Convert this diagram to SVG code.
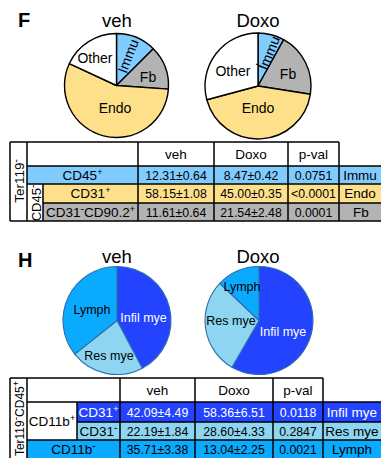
<svg xmlns="http://www.w3.org/2000/svg" width="381" height="458" viewBox="0 0 381 458">
<style>
text{font-family:"Liberation Sans",Arial,sans-serif;fill:#000}
.ttl{font-size:18.5px;text-anchor:middle}
.pan{font-size:20px;font-weight:bold}
.pl{font-size:14px;text-anchor:middle}
.pl2{font-size:12.5px;text-anchor:middle}
.hd{font-size:13.5px;text-anchor:middle}
.dt{font-size:12.3px;text-anchor:middle}
.w{fill:#fff}
.sp{font-size:9px}
.sm{font-size:10px}
.pie1{stroke:#000;stroke-width:1.4;stroke-linejoin:round}
.pie2{stroke:#2a6db0;stroke-width:1.1;stroke-linejoin:round}
.grid{stroke:#000;stroke-width:1.5;fill:none}
.immu{fill:#80ccff}.fb{fill:#b3b3b3}.endo{fill:#ffe08a}.oth{fill:#fff}
.inf{fill:#2343ff}.res{fill:#8dd5f0}.lym{fill:#0aaaff}
</style>

<!-- Panel F -->
<text class="pan" x="18" y="27">F</text>

<g id="pie-F-veh">
<text class="ttl" x="117" y="27">veh</text>
<path class="pie1 immu" d="M116.5,85.5 L116.5,33.5 A52,52 0 0 1 153.27,48.73 Z"/>
<path class="pie1 fb" d="M116.5,85.5 L153.27,48.73 A52,52 0 0 1 168.37,89.13 Z"/>
<path class="pie1 endo" d="M116.5,85.5 L168.37,89.13 A52,52 0 1 1 69.37,63.52 Z"/>
<path class="pie1 oth" d="M116.5,85.5 L69.37,63.52 A52,52 0 0 1 116.5,33.5 Z"/>
<text class="pl" x="95" y="63">Other</text>
<text class="pl" x="148" y="82">Fb</text>
<text class="pl" x="115" y="113">Endo</text>
<text class="pl" transform="translate(128,56) rotate(-69)" x="0" y="5">Immu</text>
</g>

<g id="pie-F-doxo">
<text class="ttl" x="258" y="27">Doxo</text>
<path class="pie1 immu" d="M258,86 L258,33 A53,53 0 0 1 283.7,39.64 Z"/>
<path class="pie1 fb" d="M258,86 L283.7,39.64 A53,53 0 0 1 310.35,94.29 Z"/>
<path class="pie1 endo" d="M258,86 L310.35,94.29 A53,53 0 0 1 206.81,99.72 Z"/>
<path class="pie1 oth" d="M258,86 L206.81,99.72 A53,53 0 0 1 258,33 Z"/>
<line x1="256" y1="64" x2="262" y2="67" stroke="#000" stroke-width="1"/>
<text class="pl" x="233" y="76">Other</text>
<text class="pl" x="288" y="79">Fb</text>
<text class="pl" x="258" y="113">Endo</text>
<text class="pl" transform="translate(269,53) rotate(-68)" x="0" y="5">Immu</text>
</g>

<g id="table-F">
<rect x="10" y="142" width="17" height="79" fill="#fff"/>
<rect x="27" y="142" width="312" height="24" fill="#fff"/>
<rect class="immu" x="27" y="166" width="354" height="18"/>
<rect class="endo" x="43" y="184" width="338" height="19"/>
<rect class="fb" x="43" y="203" width="338" height="18"/>
<rect x="27" y="184" width="16" height="37" fill="#fff"/>
<path class="grid" d="M10,142H339 M27,166H381 M27,184H381 M43,203H381 M10,221H381 M10,142V221 M27,142V221 M43,184V221 M138,142V221 M214,142V221 M288,142V221 M339,142V221"/>
<text class="hd" transform="translate(24,181) rotate(-90)">Ter119<tspan class="sm" dy="-5">-</tspan></text>
<text class="hd" font-size="13" style="font-size:13px" transform="translate(40.5,203) rotate(-90)">CD45<tspan class="sm" dy="-5">-</tspan></text>
<text class="hd" x="176" y="159">veh</text>
<text class="hd" x="251" y="159">Doxo</text>
<text class="hd" x="313.5" y="159">p-val</text>
<text class="hd" x="82.5" y="180">CD45<tspan class="sp" dy="-5">+</tspan></text>
<text class="dt" x="176" y="180">12.31±0.64</text>
<text class="dt" x="251" y="180">8.47±0.42</text>
<text class="dt" x="313.5" y="180">0.0751</text>
<text class="hd" x="360" y="180">Immu</text>
<text class="hd" x="90.5" y="198">CD31<tspan class="sp" dy="-5">+</tspan></text>
<text class="dt" x="176" y="198">58.15±1.08</text>
<text class="dt" x="251" y="198">45.00±0.35</text>
<text class="dt" x="313.5" y="198">&lt;0.0001</text>
<text class="hd" x="360" y="198">Endo</text>
<text class="hd" x="90.5" y="216.5">CD31<tspan class="sm" dy="-5">-</tspan><tspan dy="5">CD90.2</tspan><tspan class="sp" dy="-5">+</tspan></text>
<text class="dt" x="176" y="216.5">11.61±0.64</text>
<text class="dt" x="251" y="216.5">21.54±2.48</text>
<text class="dt" x="313.5" y="216.5">0.0001</text>
<text class="hd" x="361" y="216.5">Fb</text>
</g>

<!-- Panel H -->
<text class="pan" x="18" y="267">H</text>

<g id="pie-H-veh">
<text class="ttl" x="117" y="263">veh</text>
<path class="pie2 inf" d="M117,320.5 L117,266.5 A54,54 0 0 1 142.35,368.18 Z"/>
<path class="pie2 res" d="M117,320.5 L142.35,368.18 A54,54 0 0 1 74.74,354.12 Z"/>
<path class="pie2 lym" d="M117,320.5 L74.74,354.12 A54,54 0 0 1 117,266.5 Z"/>
<text class="pl2" x="92" y="313.5">Lymph</text>
<text class="pl2 w" x="143.5" y="321.5">Infil mye</text>
<text class="pl2" x="109" y="360">Res mye</text>
</g>

<g id="pie-H-doxo">
<text class="ttl" x="258" y="263">Doxo</text>
<path class="pie2 inf" d="M259,320.5 L259,266.5 A54,54 0 1 1 232,367.27 Z"/>
<path class="pie2 res" d="M259,320.5 L232,367.27 A54,54 0 0 1 219.83,283.33 Z"/>
<path class="pie2 lym" d="M259,320.5 L219.83,283.33 A54,54 0 0 1 259,266.5 Z"/>
<text class="pl2" x="242" y="291">Lymph</text>
<text class="pl2" x="231" y="325">Res mye</text>
<text class="pl2 w" x="283" y="336">Infil mye</text>
</g>

<g id="table-H">
<rect x="10" y="378" width="17" height="80" fill="#fff"/>
<rect x="27" y="378" width="296" height="24" fill="#fff"/>
<rect x="27" y="402" width="50" height="38" fill="#fff"/>
<rect class="inf" x="77" y="402" width="304" height="20"/>
<rect class="res" x="77" y="422" width="304" height="18"/>
<rect class="lym" x="27" y="440" width="354" height="18"/>
<path class="grid" d="M10,378H323 M27,402H381 M77,422H381 M27,440H381 M10,378V458 M27,378V458 M77,402V440 M120,378V458 M195,378V458 M273,378V458 M323,378V458"/>
<text style="font-size:12px;text-anchor:end" transform="translate(24,381) rotate(-90)">Ter119<tspan class="sm" dy="-5">-</tspan><tspan dy="5">CD45</tspan><tspan class="sp" dy="-5">+</tspan></text>
<text class="hd" x="157.5" y="395">veh</text>
<text class="hd" x="234" y="395">Doxo</text>
<text class="hd" x="298" y="395">p-val</text>
<text class="hd" x="52" y="425.5">CD11b<tspan class="sp" dy="-5">+</tspan></text>
<text class="hd w" x="98.5" y="416.5">CD31<tspan class="sp" dy="-5">+</tspan></text>
<text class="dt w" x="157.5" y="416.5">42.09±4.49</text>
<text class="dt w" x="234" y="416.5">58.36±6.51</text>
<text class="dt w" x="298" y="416.5">0.0118</text>
<text class="hd w" x="352" y="416.5">Infil mye</text>
<text class="hd" x="98.5" y="435.5">CD31<tspan class="sm" dy="-5">-</tspan></text>
<text class="dt" x="157.5" y="435.5">22.19±1.84</text>
<text class="dt" x="234" y="435.5">28.60±4.33</text>
<text class="dt" x="298" y="435.5">0.2847</text>
<text class="hd" x="352" y="435.5">Res mye</text>
<text class="hd" x="73.5" y="453.5">CD11b<tspan class="sm" dy="-5">-</tspan></text>
<text class="dt" x="157.5" y="453.5">35.71±3.38</text>
<text class="dt" x="234" y="453.5">13.04±2.25</text>
<text class="dt" x="298" y="453.5">0.0021</text>
<text class="hd" x="352" y="453.5">Lymph</text>
</g>
</svg>
